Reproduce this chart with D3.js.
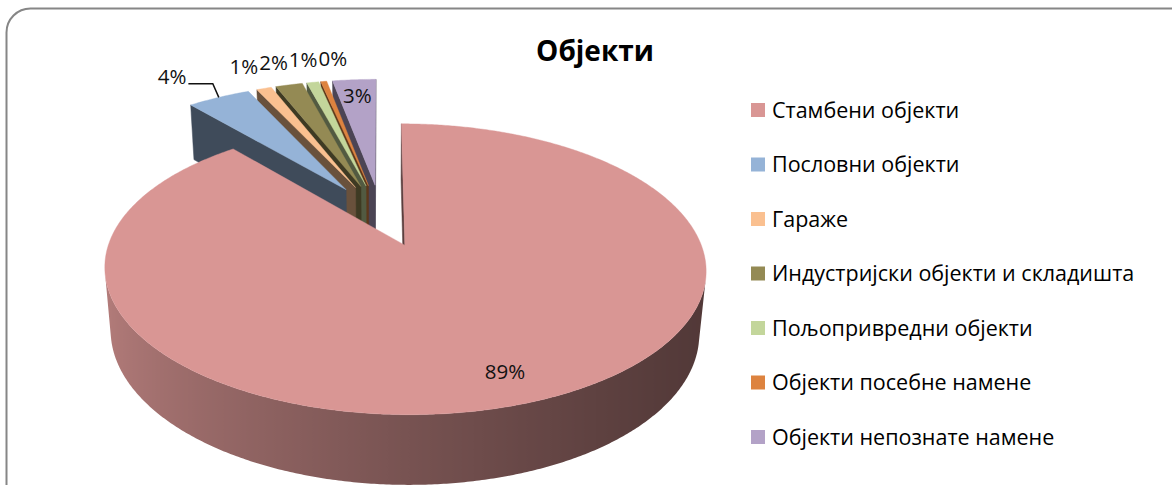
<!DOCTYPE html>
<html>
<head>
<meta charset="utf-8">
<script src="https://cdn.jsdelivr.net/npm/d3@7"></script>
<style>
  html, body { margin: 0; padding: 0; background: #fff; }
  svg { display: block; font-family: "Open Sans", "Noto Sans", "DejaVu Sans", sans-serif; }
</style>
</head>
<body>
<svg id="chart" width="1172" height="485"></svg>
<script>
// Objekti — exploded 3D pie
const title = 'Објекти';
const categories = [
  'Стамбени објекти',
  'Пословни објекти',
  'Гараже',
  'Индустријски објекти и складишта',
  'Пољопривредни објекти',
  'Објекти посебне намене',
  'Објекти непознате намене'
];
const values = [88.9, 4.2, 1.0, 1.8, 0.8, 0.4, 2.9];
const colors = ['#D99694', '#95B3D7', '#FAC090', '#948A54', '#C3D69B', '#DD833F', '#B3A2C7'];

// label placement (Excel "best fit" result): inside the slice or outside, leader line or not
const labelInside = [true, false, false, false, false, false, true];
const labelLeader = [false, true, false, false, false, false, false];

const W = 1172, H = 485;
// view: pie radius in px, elevation, camera distance (in radii), thickness, explosion
const view = { cx: 381, cy: 215, R: 286, phi: 27.4 * Math.PI / 180, dist: 5.55, depth: 0.244, explode: 0.235 };
const cosP = Math.cos(view.phi), sinP = Math.sin(view.phi);
const cam = [0, -view.dist * cosP, view.dist * sinP];

// world point [x (right), d (away from viewer), h (up)] -> screen
function project([x, d, h]) {
  const z = view.dist + d * cosP - h * sinP;
  const f = view.R * view.dist / z;
  return [view.cx + f * x, view.cy - f * (d * sinP + h * cosP)];
}
const facing = (n, p) => n[0] * (cam[0] - p[0]) + n[1] * (cam[1] - p[1]) + n[2] * (cam[2] - p[2]) > 0;
const shade = (c, k) => { const r = d3.rgb(c); return d3.rgb(r.r * k, r.g * k, r.b * k).formatHex(); };
const sideLight = t => 0.62 - 0.23 * Math.sin(t) + 0.07 * Math.cos(t);
const cutLight = 0.42;

const svg = d3.select('#chart');
const defs = svg.append('defs');
svg.append('rect').attr('width', W).attr('height', H).attr('fill', '#fff');
svg.append('rect')
  .attr('x', 6.5).attr('y', 8.5).attr('width', 1200).attr('height', 520).attr('rx', 24)
  .attr('fill', 'none').attr('stroke', '#868686').attr('stroke-width', 2);

const arcs = d3.pie().sort(null).value(d => d).startAngle(0).endAngle(2 * Math.PI)(values);
const line = d3.line();
const toPath = pts => line(pts.map(project)) + 'Z';
let gradId = 0;

const slices = arcs.map((a, i) => {
  const mid = (a.startAngle + a.endAngle) / 2;
  const o = [view.explode * Math.sin(mid), view.explode * Math.cos(mid)];
  const rim = (t, h, r = 1) => [o[0] + r * Math.sin(t), o[1] + r * Math.cos(t), h];
  const apex = h => [o[0], o[1], h];
  const hb = -view.depth;
  const faces = [];

  // radial cut faces
  const a0 = a.startAngle, a1 = a.endAngle;
  const cuts = [
    { t: a0, n: [-Math.cos(a0), Math.sin(a0), 0] },
    { t: a1, n: [Math.cos(a1), -Math.sin(a1), 0] }
  ];
  cuts.forEach(c => {
    const q = [apex(0), rim(c.t, 0), rim(c.t, hb), apex(hb)];
    if (facing(c.n, q[1])) faces.push({ d: toPath(q), fill: shade(colors[i], cutLight) });
  });

  // outer curved side: visible runs of 0.5° steps, each run one path with a horizontal gradient
  const steps = Math.max(1, Math.ceil((a1 - a0) / (Math.PI / 360)));
  const runs = [];
  let run = null;
  for (let s = 0; s <= steps; s++) {
    const t = a0 + (a1 - a0) * s / steps;
    const vis = facing([Math.sin(t), Math.cos(t), 0], rim(t, 0));
    if (vis) { if (!run) { run = []; runs.push(run); } run.push(t); }
    else run = null;
  }
  runs.filter(r => r.length > 1).forEach(r => {
    const topPts = r.map(t => rim(t, 0));
    const botPts = r.map(t => rim(t, hb)).reverse();
    const id = 'side' + (gradId++);
    const xs = r.map(t => project(rim(t, 0))[0]);
    const x0 = d3.min(xs), x1 = d3.max(xs);
    const gx = d3.scaleLinear().domain([x0, x1]).range([0, 1]);
    const stops = r.map((t, k) => ({ off: gx(xs[k]), c: shade(colors[i], sideLight(t)) }))
      .sort((p, q) => p.off - q.off);
    defs.append('linearGradient').attr('id', id)
      .attr('gradientUnits', 'userSpaceOnUse')
      .attr('x1', x0).attr('x2', x1).attr('y1', 0).attr('y2', 0)
      .selectAll('stop').data(stops).join('stop')
      .attr('offset', s => s.off).attr('stop-color', s => s.c);
    faces.push({ d: toPath(topPts.concat(botPts)), fill: `url(#${id})`, stroke: 'none' });
  });

  // top
  const top = [apex(0)];
  for (let s = 0; s <= steps; s++) top.push(rim(a0 + (a1 - a0) * s / steps, 0));
  faces.push({ d: toPath(top), fill: colors[i], top: true });

  const c = rim(mid, 0, 0.5);
  const depth = view.dist + c[1] * cosP;
  return { i, mid, rim, faces, depth };
});

// painter's order: farthest slice first
const gPie = svg.append('g');
slices.slice().sort((a, b) => b.depth - a.depth).forEach(sl => {
  gPie.append('g').selectAll('path').data(sl.faces).join('path')
    .attr('d', f => f.d)
    .attr('fill', f => f.fill)
    .attr('stroke', f => f.stroke || f.fill)
    .attr('stroke-width', f => f.top ? 0.4 : 0.5)
    .attr('stroke-linejoin', 'round');
});

// data labels
const pct = d3.format('.0%');
const gLab = svg.append('g').attr('font-size', 20.5).attr('fill', '#111');
const outside = [];
slices.forEach(sl => {
  const i = sl.i;
  const inside = labelInside[i];
  const p = project(sl.rim(sl.mid, 0, inside ? 0.83 : 1.26));
  const t = gLab.append('text')
    .attr('x', p[0]).attr('y', p[1]).attr('dy', '0.35em')
    .attr('text-anchor', labelLeader[i] ? 'end' : 'middle')
    .text(pct(values[i] / 100));
  if (labelLeader[i]) {
    t.attr('x', p[0] - 4);
    const e = project(sl.rim(sl.mid, 0, 1));
    const ly = p[1] + 7;
    gLab.append('polyline')
      .attr('points', [[p[0] - 2, ly], [e[0] - 6, ly], e].map(q => q.join(',')).join(' '))
      .attr('fill', 'none').attr('stroke', '#111').attr('stroke-width', 1.5);
  } else if (!inside) {
    outside.push(t);
  }
});
// push crowded outside labels apart, left to right
outside.sort((a, b) => +a.attr('x') - +b.attr('x'));
let lastRight = -Infinity;
outside.forEach(t => {
  const w = t.node().getComputedTextLength();
  let x = +t.attr('x');
  if (x - w / 2 < lastRight + 1) x = lastRight + 1 + w / 2;
  t.attr('x', x);
  lastRight = x + w / 2;
});

// title
svg.append('text')
  .attr('x', 595).attr('y', 61)
  .attr('text-anchor', 'middle')
  .attr('font-size', 28).attr('font-weight', 700).attr('fill', '#000')
  .text(title);

// legend
const legend = svg.append('g').attr('transform', 'translate(751,110)');
const item = legend.selectAll('g').data(categories).join('g')
  .attr('transform', (d, i) => `translate(0,${i * 54.5})`);
item.append('rect').attr('x', 0).attr('y', -7).attr('width', 14).attr('height', 14)
  .attr('fill', (d, i) => colors[i]);
item.append('text').attr('x', 21).attr('y', 0).attr('dy', '0.35em')
  .attr('font-size', 21.5).attr('fill', '#000')
  .text(d => d);
</script>
</body>
</html>
